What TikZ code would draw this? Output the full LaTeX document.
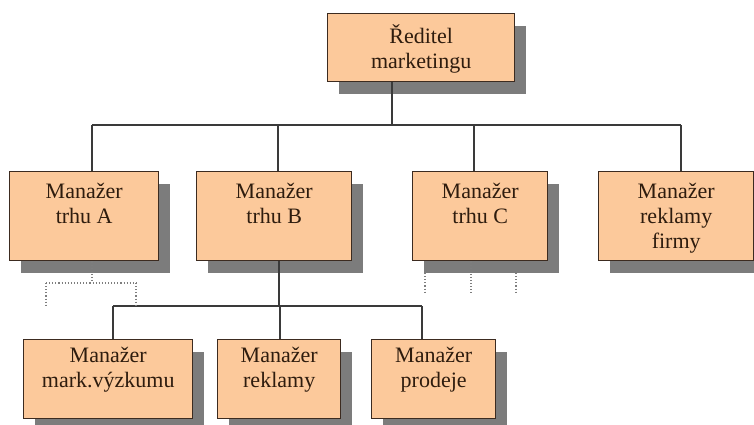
\documentclass[tikz,border=0pt]{standalone}
\usepackage{fontspec}
\setmainfont{Liberation Serif}
\usetikzlibrary{shadows,calc}
\definecolor{boxfill}{HTML}{FCC99B}
\definecolor{boxline}{HTML}{3C2B20}
\definecolor{textbrown}{HTML}{2E1C0E}
\definecolor{shadowgray}{HTML}{7C7C7C}
\definecolor{linegray}{HTML}{3A3A3A}
\definecolor{dotgray}{HTML}{7E7E7E}

% #1 name, #2-#5 corners (x1,y1,x2,y2), #6 gap above text, #7 text
\newcommand\orgunit[7]{%
  \node[orgbox, minimum width={#4-#2}, minimum height={#5-#3}, anchor=north west] (#1) at (#2,#3) {};
  \node[boxtext] (#1-t) at ($(#1.north)+(0,#6)$) {\strut #7};}

\begin{document}
\begin{tikzpicture}[x=1pt,y=-1pt,
  orgbox/.style={draw=boxline, line width=1.4pt, fill=boxfill, inner sep=0pt,
    general shadow={fill=shadowgray, shadow xshift=11pt, shadow yshift=-12pt}},
  boxtext/.style={text=textbrown, align=center, inner sep=0pt, anchor=north,
    font=\fontsize{22}{25}\selectfont},
  link/.style={draw=linegray, line width=1.3pt},
  dots/.style={draw=dotgray, dotted, line width=1.1pt}]
\useasboundingbox (0,0) rectangle (754,425);

% boxes
\orgunit{top}{327}{13}{514}{81}{11.5}{Ředitel\\marketingu}
\orgunit{a}{9}{171}{158}{260}{9.5}{Manažer\\trhu A}
\orgunit{b}{196}{171}{351}{260}{9.5}{Manažer\\trhu B}
\orgunit{c}{412}{171}{547}{260}{9.5}{Manažer\\trhu C}
\orgunit{d}{598}{171}{753}{260}{9.5}{Manažer\\reklamy\\firmy}
\orgunit{b1}{23}{339}{192}{418}{5.5}{Manažer\\mark.výzkumu}
\orgunit{b2}{217}{339}{340}{418}{5.5}{Manažer\\reklamy}
\orgunit{b3}{371}{339}{495}{418}{5.5}{Manažer\\prodeje}

% upper bus
\coordinate (j0) at (392,125);
\coordinate (jA) at (92,125);
\coordinate (jB) at (278,125);
\coordinate (jC) at (474,125);
\coordinate (jD) at (681,125);
\draw[link] (top.south -| j0) -- (j0);
\draw[link] (jA) -- (jD);
\draw[link] (jA) -- (a.north -| jA);
\draw[link] (jB) -- (b.north -| jB);
\draw[link] (jC) -- (c.north -| jC);
\draw[link] (jD) -- (d.north -| jD);

% lower bus under trhu B
\coordinate (kM) at (279,306);
\coordinate (kL) at (113,306);
\coordinate (k2) at (280,306);
\coordinate (kR) at (422,306);
\draw[link] (b.south -| kM) -- (kM);
\draw[link] (kL) -- (kR);
\draw[link] (kL) -- (b1.north -| kL);
\draw[link] (k2) -- (b2.north -| k2);
\draw[link] (kR) -- (b3.north -| kR);

% dotted stubs under trhu A
\coordinate (dA) at (92,283);
\coordinate (dAL) at (46,283);
\coordinate (dAR) at (136,283);
\coordinate (dAL2) at (46,307);
\coordinate (dAR2) at (136,307);
\draw[dots] (a.south -| dA) -- (dA);
\draw[dots] (dAL) -- (dAR);
\draw[dots] (dAL) -- (dAL2);
\draw[dots] (dAR) -- (dAR2);

% dotted stubs under trhu C
\coordinate (dC1) at (425,273);
\coordinate (dC1e) at (425,293);
\coordinate (dC2) at (471,293);
\coordinate (dC3) at (516,273);
\coordinate (dC3e) at (516,293);
\draw[dots] (dC1) -- (dC1e);
\draw[dots] (c.south -| dC2) -- (dC2);
\draw[dots] (dC3) -- (dC3e);
\end{tikzpicture}
\end{document}
